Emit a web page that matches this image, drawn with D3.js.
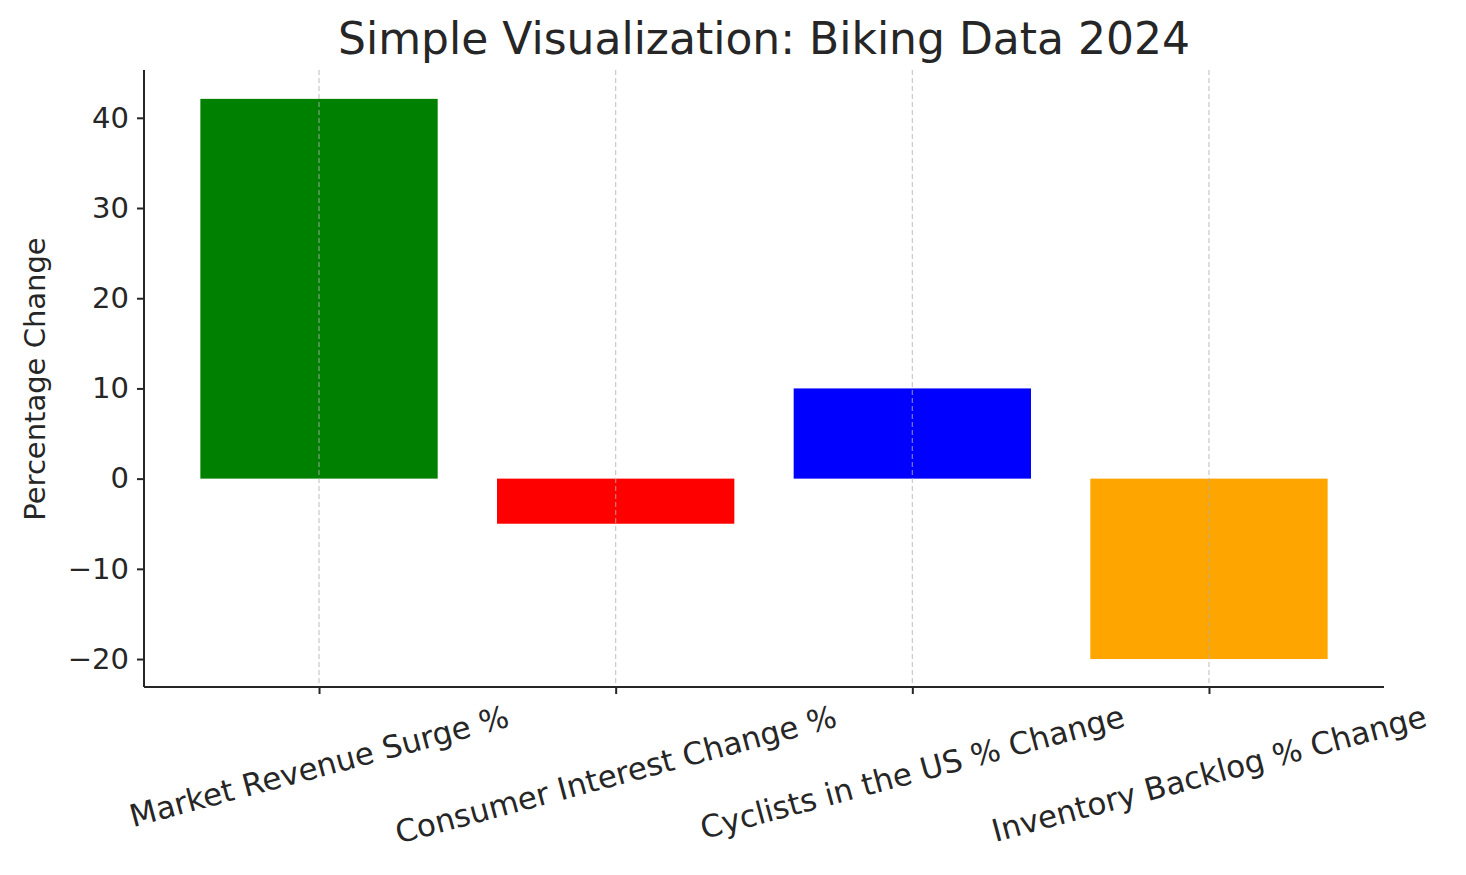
<!DOCTYPE html>
<html><head><meta charset="utf-8">
<script src="https://cdn.jsdelivr.net/npm/d3@7"></script>
<style>body{margin:0;background:#fff}text{font-family:"DejaVu Sans",sans-serif;fill:#262626}</style>
</head><body><svg id="chart" width="1466" height="875"></svg>
<script>
var categories = ["Market Revenue Surge %", "Consumer Interest Change %", "Cyclists in the US % Change", "Inventory Backlog % Change"],
    values = [42.1, -5, 10, -20],
    colors = ["green", "red", "blue", "orange"],
    yTicks = [-20, -10, 0, 10, 20, 30, 40]

var mLeft = 144, mRight = 1384, mTop = 70, mBottom = 687

var svg = d3.select('#chart')

var x = d3.scaleLinear().domain([-0.59, 3.59]).range([mLeft, mRight])
var y = d3.scaleLinear().domain([-23.1, 45.3]).range([mBottom, mTop])

svg.selectAll('rect.bar').data(values).enter().append('rect')
    .attr('class', 'bar')
    .attr('x', function(d, i) { return x(i - 0.4) })
    .attr('width', x(0.4) - x(-0.4))
    .attr('y', function(d) { return y(Math.max(d, 0)) })
    .attr('height', function(d) { return Math.abs(y(d) - y(0)) })
    .attr('fill', function(d, i) { return colors[i] })

// dashed grid on top of bars
svg.selectAll('line.grid').data(categories).enter().append('line')
    .attr('x1', function(d, i) { return x(i) }).attr('x2', function(d, i) { return x(i) })
    .attr('y1', mTop).attr('y2', mBottom)
    .attr('stroke', '#b0b0b0').attr('stroke-opacity', 0.7)
    .attr('stroke-width', 1.2).attr('stroke-dasharray', '5,3')

var yAxis = d3.axisLeft(y).tickValues(yTicks).tickSize(7).tickPadding(8)
    .tickFormat(function(d) { return d < 0 ? '\u2212' + Math.abs(d) : d })
var gy = svg.append('g').attr('transform', 'translate(' + mLeft + ',0)').call(yAxis)
gy.select('.domain').attr('d', 'M0,' + mTop + 'V' + mBottom).attr('stroke', '#262626').attr('stroke-width', 2)
gy.selectAll('.tick line').attr('stroke', '#262626').attr('stroke-width', 2)
gy.selectAll('.tick text').attr('font-size', 29).style('font-family', 'DejaVu Sans').attr('fill', '#262626')

var xAxis = d3.axisBottom(x).tickValues([0, 1, 2, 3]).tickSize(7).tickFormat('')
var gx = svg.append('g').attr('transform', 'translate(0,' + mBottom + ')').call(xAxis)
gx.select('.domain').attr('d', 'M' + mLeft + ',0H' + mRight).attr('stroke', '#262626').attr('stroke-width', 2)
gx.selectAll('.tick line').attr('stroke', '#262626').attr('stroke-width', 2)

// rotated category labels, centered under tick, top of rotated box below axis
var ang = 15 * Math.PI / 180
svg.selectAll('text.cat').data(categories).enter().append('text')
    .attr('class', 'cat')
    .attr('font-size', 31)
    .attr('text-anchor', 'middle')
    .attr('dominant-baseline', 'central')
    .text(function(d) { return d })
    .each(function(d, i) {
        var w = this.getComputedTextLength(), h = 34
        var bh = w * Math.sin(ang) + h * Math.cos(ang)
        var cy = mBottom + 12 + bh / 2
        d3.select(this).attr('transform', 'translate(' + x(i) + ',' + cy + ') rotate(-15)')
    })

svg.append('text').attr('x', 764).attr('y', 54).attr('text-anchor', 'middle')
    .attr('font-size', 44).text('Simple Visualization: Biking Data 2024')

svg.append('text').attr('transform', 'translate(45,379) rotate(-90)')
    .attr('text-anchor', 'middle').attr('font-size', 29).text('Percentage Change')
</script></body></html>
